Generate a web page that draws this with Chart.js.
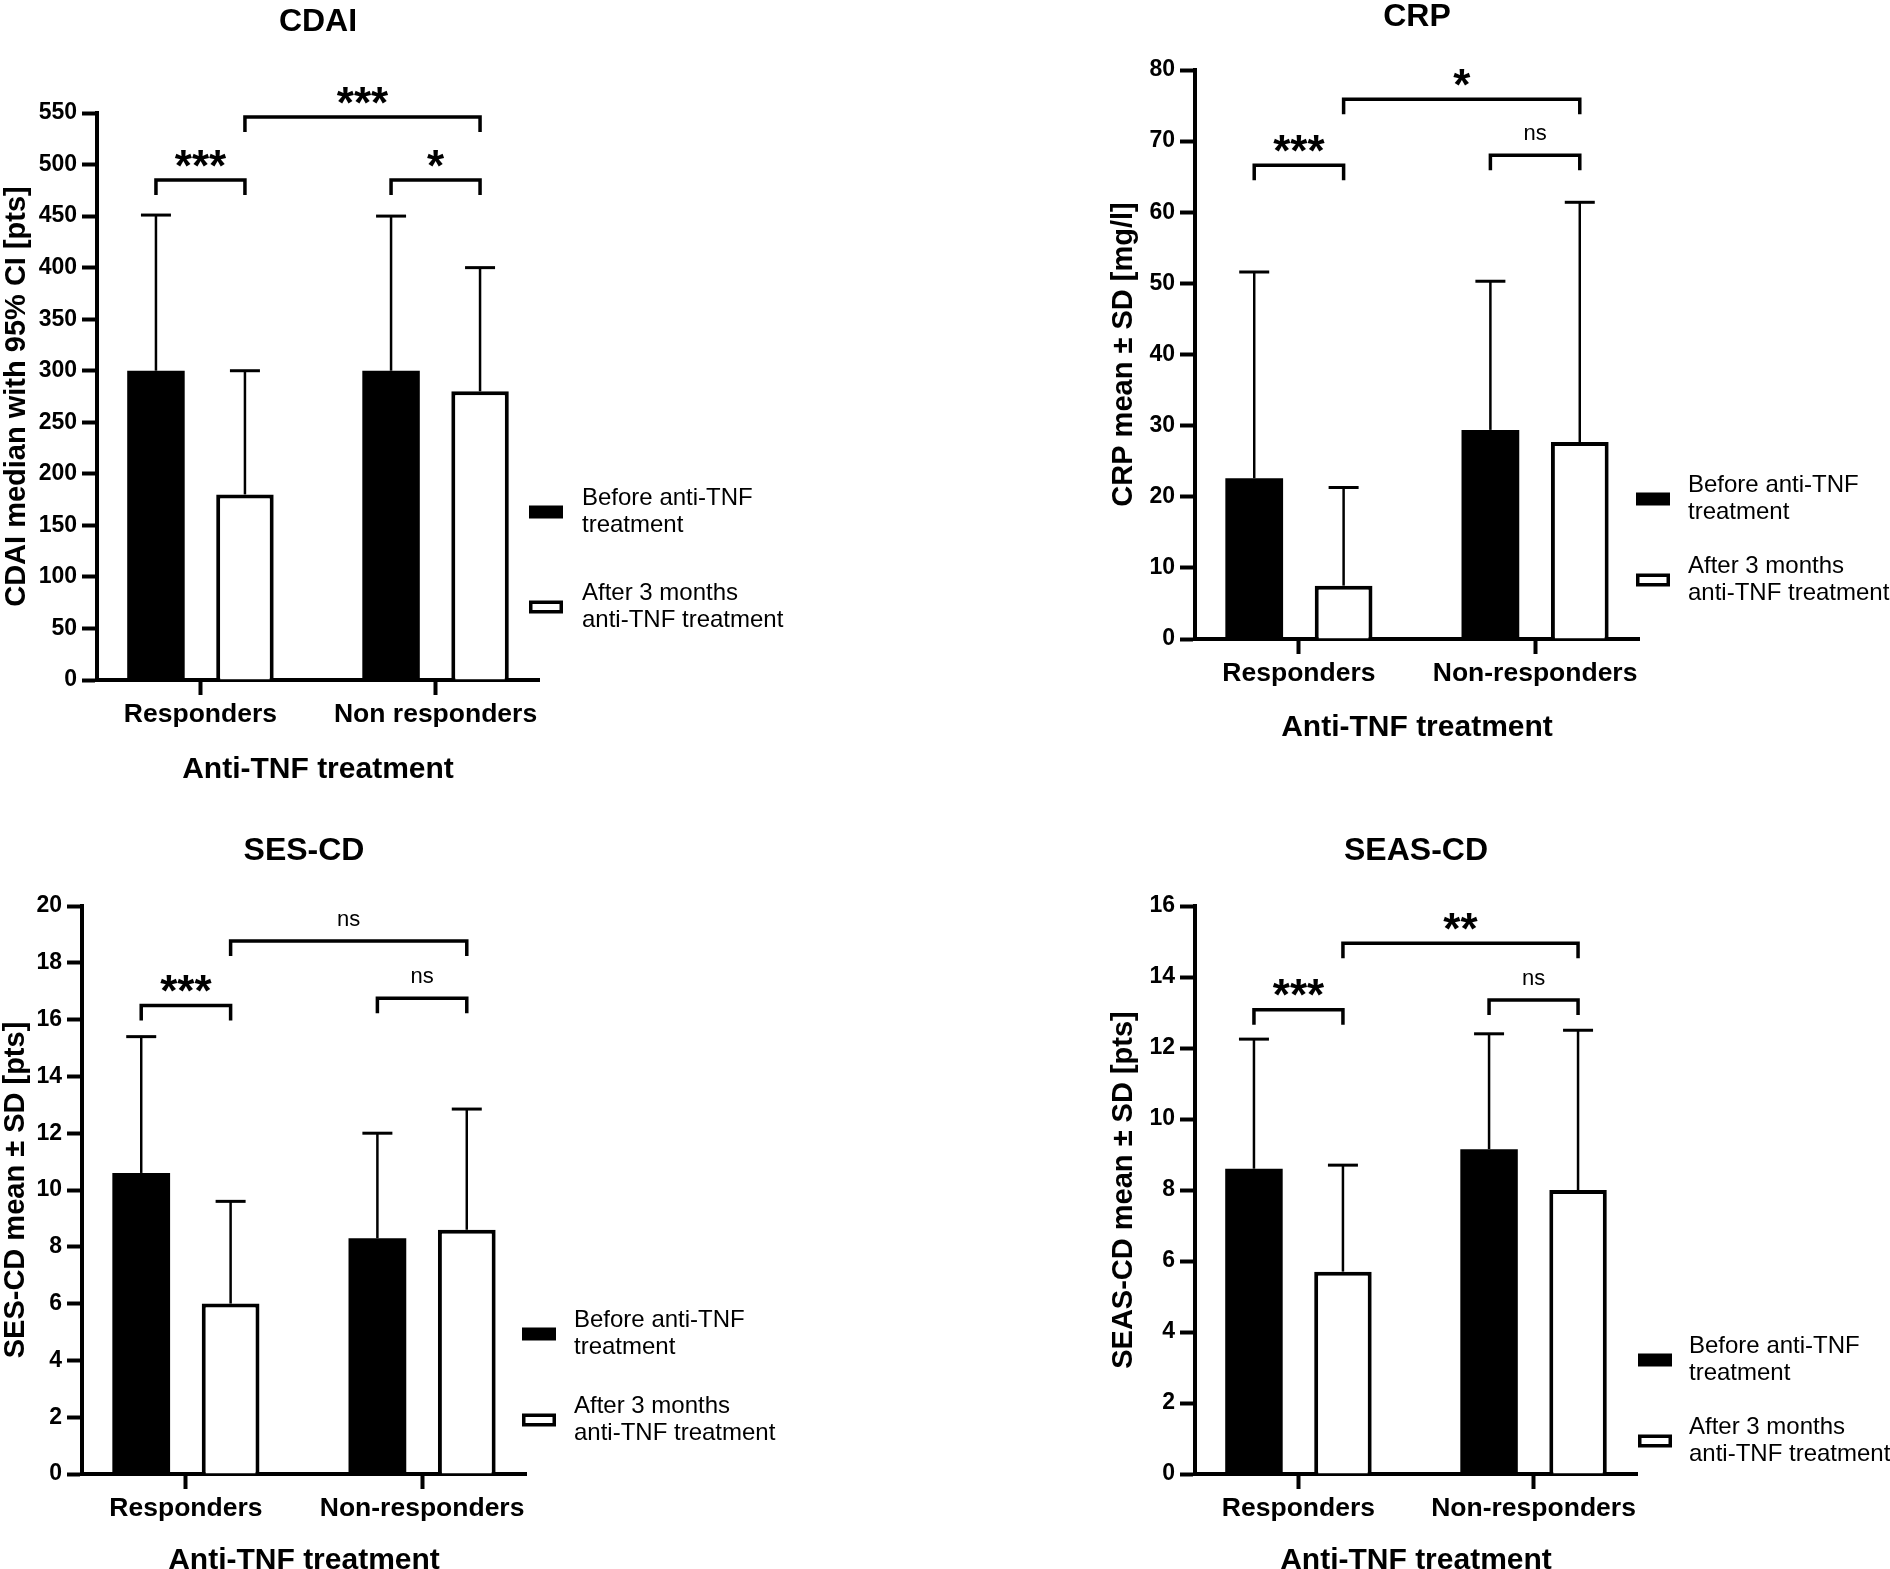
<!DOCTYPE html>
<html>
<head>
<meta charset="utf-8">
<script src="https://cdn.jsdelivr.net/npm/chart.js@4.4.1/dist/chart.umd.min.js"></script>
<style>
  html, body { margin: 0; padding: 0; background: #fff; }
  #page { position: relative; width: 1890px; height: 1569px; overflow: hidden; }
  canvas { position: absolute; }
</style>
</head>
<body>
<div id="page">
  <canvas id="cdai" width="945" height="785" style="left:0;top:0"></canvas>
  <canvas id="crp" width="945" height="785" style="left:945px;top:0"></canvas>
  <canvas id="sescd" width="945" height="784" style="left:0;top:785px"></canvas>
  <canvas id="seascd" width="945" height="784" style="left:945px;top:785px"></canvas>
</div>
<script>
// ---- data ----
const groupsCdai = ['Responders', 'Non responders'];
const groups = ['Responders', 'Non-responders'];
const seriesLabels = [['Before anti-TNF', 'treatment'], ['After 3 months', 'anti-TNF treatment']];
const xTitle = 'Anti-TNF treatment';

// CDAI: median with 95% CI (upper limit)
const cdaiBefore = [300, 300];
const cdaiBeforeUpper = [451, 450];
const cdaiAfter = [180, 280];
const cdaiAfterUpper = [300, 400];
const cdaiAxis = [0, 550, 50];
// [group1, series1, group2, series2, level, label]
const cdaiBrackets = [[0, 0, 0, 1, 485, '***'], [0, 1, 1, 1, 546, '***'], [1, 0, 1, 1, 485, '*']];

// CRP: mean + SD
const crpBefore = [22.6, 29.4];
const crpBeforeUpper = [51.6, 50.3];
const crpAfter = [7.5, 27.7];
const crpAfterUpper = [21.3, 61.4];
const crpAxis = [0, 80, 10];
const crpBrackets = [[0, 0, 0, 1, 66.6, '***'], [0, 1, 1, 1, 75.9, '*'], [1, 0, 1, 1, 68.0, 'ns']];

// SES-CD: mean + SD
const sesBefore = [10.6, 8.3];
const sesBeforeUpper = [15.4, 12.0];
const sesAfter = [6.0, 8.6];
const sesAfterUpper = [9.6, 12.85];
const sesAxis = [0, 20, 2];
const sesBrackets = [[0, 0, 0, 1, 16.5, '***'], [0, 1, 1, 1, 18.77, 'ns'], [1, 0, 1, 1, 16.75, 'ns']];

// SEAS-CD: mean + SD
const seasBefore = [8.6, 9.15];
const seasBeforeUpper = [12.25, 12.4];
const seasAfter = [5.7, 8.0];
const seasAfterUpper = [8.7, 12.5];
const seasAxis = [0, 16, 2];
const seasBrackets = [[0, 0, 0, 1, 13.08, '***'], [0, 1, 1, 1, 14.95, '**'], [1, 0, 1, 1, 13.35, 'ns']];

// ---- drawing ----
const FONT = "'Liberation Sans', Arial, Helvetica, sans-serif";
Chart.defaults.font.family = FONT;
Chart.defaults.color = '#000';
Chart.defaults.animation = false;

const CAT_PAD = 0.44; // space between the y axis and the first category

const errorBars = {
  id: 'errorBars',
  afterDatasetsDraw(chart, args, opts) {
    const ctx = chart.ctx, y = chart.scales.y;
    ctx.save();
    ctx.strokeStyle = '#000';
    opts.upper.forEach((vals, di) => {
      chart.getDatasetMeta(di).data.forEach((bar, i) => {
        const top = y.getPixelForValue(vals[i]);
        ctx.lineWidth = 2.5;
        ctx.beginPath(); ctx.moveTo(bar.x, bar.y); ctx.lineTo(bar.x, top); ctx.stroke();
        ctx.lineWidth = 3;
        ctx.beginPath(); ctx.moveTo(bar.x - 15, top); ctx.lineTo(bar.x + 15, top); ctx.stroke();
      });
    });
    ctx.restore();
  }
};

const brackets = {
  id: 'brackets',
  afterDatasetsDraw(chart, args, opts) {
    const ctx = chart.ctx, y = chart.scales.y;
    ctx.save();
    ctx.strokeStyle = '#000';
    ctx.fillStyle = '#000';
    ctx.lineWidth = 3.5;
    opts.items.forEach(([g1, s1, g2, s2, v, label]) => {
      const x1 = chart.getDatasetMeta(s1).data[g1].x;
      const x2 = chart.getDatasetMeta(s2).data[g2].x;
      const py = y.getPixelForValue(v);
      ctx.beginPath();
      ctx.moveTo(x1, py + 15); ctx.lineTo(x1, py); ctx.lineTo(x2, py); ctx.lineTo(x2, py + 15);
      ctx.stroke();
      const stars = label !== 'ns';
      ctx.font = stars ? 'bold 44px ' + FONT : '22px ' + FONT;
      ctx.textAlign = 'center';
      ctx.textBaseline = 'alphabetic';
      const m = ctx.measureText(label);
      const cy = py - (stars ? 22 : 21);
      ctx.fillText(label, (x1 + x2) / 2, cy + (m.actualBoundingBoxAscent - m.actualBoundingBoxDescent) / 2);
    });
    ctx.restore();
  }
};

const sideLegend = {
  id: 'sideLegend',
  afterDraw(chart, args, opts) {
    const ctx = chart.ctx;
    ctx.save();
    chart.data.datasets.forEach((ds, i) => {
      const cy = opts.rows[i];
      ctx.fillStyle = ds.backgroundColor;
      ctx.fillRect(opts.rectX, cy - 6.5, 34, 13);
      if (ds.borderWidth) {
        ctx.strokeStyle = ds.borderColor;
        ctx.lineWidth = 3.5;
        ctx.strokeRect(opts.rectX + 1.75, cy - 4.75, 30.5, 9.5);
      }
      ctx.fillStyle = '#000';
      ctx.font = '24px ' + FONT;
      ctx.textAlign = 'left';
      ctx.textBaseline = 'middle';
      seriesLabels[i].forEach((t, k) => ctx.fillText(t, opts.textX, cy + (k - 0.5) * 27));
    });
    ctx.restore();
  }
};

function panel(id, p, box) {
  const tLH = 32;
  const axLH = 12; // line height used for the axis titles, px
  return new Chart(document.getElementById(id), {
    type: 'bar',
    data: {
      labels: p.labels,
      datasets: [
        { label: seriesLabels[0].join(' '), data: p.before, backgroundColor: '#000', borderColor: '#000', borderWidth: 0,
          categoryPercentage: 0.757, barPercentage: 0.646 },
        { label: seriesLabels[1].join(' '), data: p.after, backgroundColor: '#fff', borderColor: '#000', borderWidth: 4,
          categoryPercentage: 0.757, barPercentage: 0.646 }
      ]
    },
    options: {
      responsive: false,
      devicePixelRatio: 1,
      events: [],
      layout: { padding: { left: 0, top: 0, right: box.w - box.right, bottom: 0 } },
      plugins: {
        legend: { display: false },
        tooltip: { enabled: false },
        title: {
          display: true, text: p.title, fullSize: false, color: '#000',
          font: { size: 32, weight: 'bold', lineHeight: 1.0 },
          padding: { top: box.titleY - tLH / 2, bottom: box.top - (box.titleY - tLH / 2) - tLH }
        },
        errorBars: { upper: [p.beforeUpper, p.afterUpper] },
        brackets: { items: p.brackets },
        sideLegend: { rectX: box.legendRectX, textX: box.legendTextX, rows: box.legendRows }
      },
      scales: {
        x: {
          type: 'category',
          offset: true,
          afterBuildTicks: (s) => { s._startValue = -CAT_PAD; s._valueRange = 1 + 2 * CAT_PAD; },
          afterFit: (s) => { s.height = box.h - box.bottom; },
          grid: { offset: false, drawOnChartArea: false, drawTicks: true, tickLength: 15, tickWidth: 4, tickColor: '#000' },
          border: { display: true, width: 4, color: '#000' },
          ticks: { font: { size: 26.5, weight: 'bold' }, color: '#000', padding: 4, maxRotation: 0, autoSkip: false },
          title: {
            display: true, text: xTitle, color: '#000',
            font: { size: 30, weight: 'bold', lineHeight: axLH / 30 },
            padding: { top: 0, bottom: Math.max(0, box.h - box.xTitleY - axLH / 2) }
          }
        },
        y: {
          min: p.axis[0], max: p.axis[1],
          afterFit: (s) => { s.width = box.left; },
          grid: { drawOnChartArea: false, drawTicks: true, tickLength: 15, tickWidth: 4, tickColor: '#000' },
          border: { display: true, width: 4, color: '#000' },
          ticks: { stepSize: p.axis[2], font: { size: 23, weight: 'bold' }, color: '#000', padding: 5 },
          title: {
            display: true, text: p.yTitle, color: '#000',
            font: { size: 29, weight: 'bold', lineHeight: axLH / 29 },
            padding: { top: box.yTitleX - axLH / 2, bottom: 0 }
          }
        }
      }
    },
    plugins: [errorBars, brackets, sideLegend]
  });
}

panel('cdai', {
  title: 'CDAI', yTitle: 'CDAI median with 95% CI [pts]', labels: groupsCdai,
  before: cdaiBefore, after: cdaiAfter, beforeUpper: cdaiBeforeUpper, afterUpper: cdaiAfterUpper,
  axis: cdaiAxis, brackets: cdaiBrackets
}, { w: 945, h: 785, left: 97, right: 539, top: 113, bottom: 680, titleY: 22, yTitleX: 17, xTitleY: 770,
     legendRectX: 529, legendTextX: 582, legendRows: [512, 607] });

panel('crp', {
  title: 'CRP', yTitle: 'CRP mean \u00b1 SD [mg/l]', labels: groups,
  before: crpBefore, after: crpAfter, beforeUpper: crpBeforeUpper, afterUpper: crpAfterUpper,
  axis: crpAxis, brackets: crpBrackets
}, { w: 945, h: 785, left: 250, right: 694, top: 70, bottom: 639, titleY: 17, yTitleX: 179, xTitleY: 728,
     legendRectX: 691, legendTextX: 743, legendRows: [499, 580] });

panel('sescd', {
  title: 'SES-CD', yTitle: 'SES-CD mean \u00b1 SD [pts]', labels: groups,
  before: sesBefore, after: sesAfter, beforeUpper: sesBeforeUpper, afterUpper: sesAfterUpper,
  axis: sesAxis, brackets: sesBrackets
}, { w: 945, h: 784, left: 82, right: 526, top: 121, bottom: 689, titleY: 66, yTitleX: 16, xTitleY: 776,
     legendRectX: 522, legendTextX: 574, legendRows: [549, 635] });

panel('seascd', {
  title: 'SEAS-CD', yTitle: 'SEAS-CD mean \u00b1 SD [pts]', labels: groups,
  before: seasBefore, after: seasAfter, beforeUpper: seasBeforeUpper, afterUpper: seasAfterUpper,
  axis: seasAxis, brackets: seasBrackets
}, { w: 945, h: 784, left: 250, right: 692, top: 121, bottom: 689, titleY: 66, yTitleX: 179, xTitleY: 776,
     legendRectX: 693, legendTextX: 744, legendRows: [575, 656] });
</script>
</body>
</html>
